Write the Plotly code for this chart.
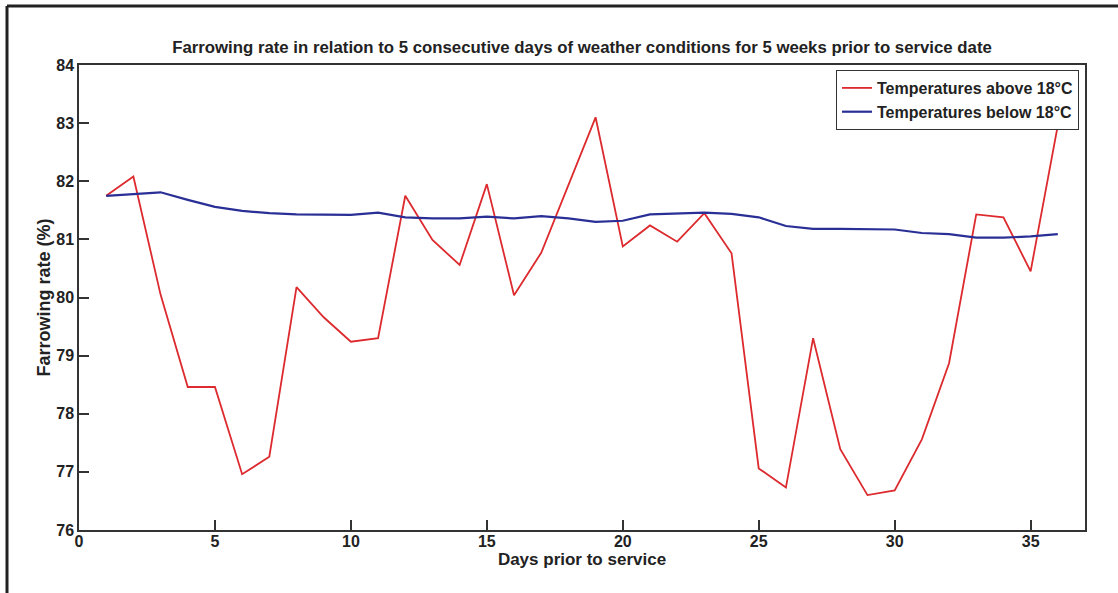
import plotly.graph_objects as go

days = list(range(1, 37))
above_18 = [81.75, 82.08, 80.05, 78.46, 78.46, 76.96, 77.26, 80.18, 79.66, 79.24,
            79.30, 81.75, 80.99, 80.56, 81.95, 80.04, 80.77, 81.95, 83.10, 80.88,
            81.24, 80.96, 81.45, 80.76, 77.06, 76.73, 79.30, 77.39, 76.60, 76.68,
            77.56, 78.87, 81.43, 81.38, 80.45, 82.96]
below_18 = [81.75, 81.78, 81.81, 81.68, 81.56, 81.49, 81.45, 81.43, 81.42, 81.42,
            81.46, 81.38, 81.36, 81.36, 81.39, 81.36, 81.40, 81.36, 81.30, 81.32,
            81.43, 81.44, 81.46, 81.44, 81.38, 81.23, 81.18, 81.18, 81.18, 81.17,
            81.11, 81.09, 81.03, 81.03, 81.05, 81.09]
x_ticks = [0, 5, 10, 15, 20, 25, 30, 35]
y_ticks = [76, 77, 78, 79, 80, 81, 82, 83, 84]

title_text = "Farrowing rate in relation to 5 consecutive days of weather conditions for 5 weeks prior to service date"
font_family = "Liberation Sans, Arial, Helvetica, sans-serif"
txt = "#222222"

fig = go.Figure()
fig.add_trace(go.Scatter(x=days, y=above_18, mode="lines", name="Temperatures above 18°C",
                         line=dict(color="#dc2a2e", width=1.8)))
fig.add_trace(go.Scatter(x=days, y=below_18, mode="lines", name="Temperatures below 18°C",
                         line=dict(color="#2a2f96", width=2.2)))

L, R, T, B = 79, 33, 65, 63
W, H = 1118, 593
pw, ph = W - L - R, H - T - B

def px(xp):
    return (xp - L) / pw

def py(yp):
    return (H - B - yp) / ph

axis_common = dict(showline=True, mirror=True, linecolor="#333333", linewidth=1.5,
                   ticks="inside", ticklen=10, tickwidth=1.5, tickcolor="#333333",
                   showgrid=False, zeroline=False,
                   tickfont=dict(family=font_family, size=16, color=txt, weight="bold"))

fig.update_xaxes(range=[0, 37], tickvals=x_ticks, ticklabelstandoff=-4,
                 title=dict(text="Days prior to service", standoff=0,
                            font=dict(family=font_family, size=17, color=txt, weight="bold")),
                 **axis_common)
fig.update_yaxes(range=[76, 84], tickvals=y_ticks, ticklabelstandoff=0,
                 title=dict(text="Farrowing rate (%)", standoff=1,
                            font=dict(family=font_family, size=18, color=txt, weight="bold")),
                 **axis_common)

fig.update_layout(
    width=W, height=H,
    margin=dict(l=L, r=R, t=T, b=B, pad=0),
    paper_bgcolor="white", plot_bgcolor="white",
    title=dict(text=title_text, x=582 / W, xanchor="center",
               y=1 - 47 / H, yanchor="middle",
               font=dict(family=font_family, size=16.8, color=txt, weight="bold")),
    legend=dict(x=px(1079), y=py(70), xanchor="right", yanchor="top",
                bgcolor="white", bordercolor="#333333", borderwidth=1,
                font=dict(family=font_family, size=16, color=txt, weight="bold"),
                tracegroupgap=0, itemwidth=30),
    showlegend=True,
    shapes=[
        dict(type="line", xref="paper", yref="paper", x0=px(7), x1=px(W + 2), y0=py(6), y1=py(6),
             line=dict(color="#222222", width=3)),
        dict(type="line", xref="paper", yref="paper", x0=px(7), x1=px(7), y0=py(6), y1=py(H + 2),
             line=dict(color="#222222", width=3)),
    ],
)

fig.write_html("out.html", config={"displayModeBar": False},
               post_script="document.body.style.margin='0';")
